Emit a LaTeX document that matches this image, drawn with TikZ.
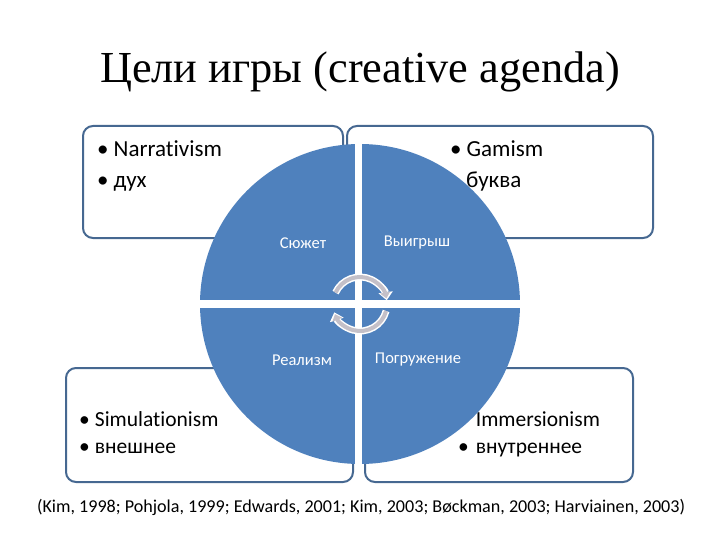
\documentclass[tikz,border=0pt]{standalone}
\usepackage{fontspec}
\setmainfont{Carlito}[Ligatures=NoCommon]
\newfontfamily\titlefont{Liberation Serif}
\usetikzlibrary{arrows.meta}
\definecolor{qblue}{RGB}{79,129,189}
\definecolor{bord}{RGB}{70,104,145}
\definecolor{cyc}{RGB}{196,192,200}
\tikzset{
  boxq/.style={draw=bord,line width=2pt,fill=white,rounded corners=10pt},
  btxt/.style={anchor=base west,inner sep=0pt,font=\fontsize{23}{27}\selectfont},
  btxs/.style={anchor=base west,inner sep=0pt,font=\fontsize{21.5}{25}\selectfont},
  qlab/.style={text=white,inner sep=0pt,font=\fontsize{16.5}{19}\selectfont},
}
\begin{document}
\begin{tikzpicture}[x=1pt,y=-1pt]
\useasboundingbox (0,0) rectangle (720,540);
% title
\node[anchor=base,inner sep=0pt,font=\titlefont\fontsize{44.3}{50}\selectfont] (title) at (360,83) {Цели игры (creative agenda)};
% boxes
\draw[boxq] (83,126) rectangle (343,238);
\draw[boxq] (347,126) rectangle (653,238);
\draw[boxq] (66,368) rectangle (353,482);
\draw[boxq] (365,368) rectangle (633,482);
% box texts
\node[btxt] (n1) at (97,157) {\textbullet\hspace{5pt}Narrativism};
\node[btxt] (n2) at (97,188) {\textbullet\hspace{5pt}дух};
\node[btxt] (g1) at (450,157) {\textbullet\hspace{5pt}Gamism};
\node[btxt] (g2) at (466,188) {буква};
\node[btxs] (s1) at (79,426) {\textbullet\hspace{5pt}Simulationism};
\node[btxs] (s2) at (79,453) {\textbullet\hspace{5pt}внешнее};
\node[btxs] (i1) at (458,426) {\textbullet\hspace{7pt}Immersionism};
\node[btxs] (i2) at (458,453) {\textbullet\hspace{7pt}внутреннее};
% circle
\coordinate (c) at (360,304);
\fill[qblue] (c) circle (160);
\begin{scope}
\clip (c) circle (161);
\fill[white] (355,140) rectangle (362,470);
\fill[white] (190,300) rectangle (530,308);
\end{scope}
% quadrant labels
\node[qlab] (q1) at (303,243) {Сюжет};
\node[qlab] (q2) at (417,243) {Выигрыш};
\node[qlab] (q3) at (302,360) {Реализм};
\node[qlab] (q4) at (418,360) {Погружение};
% cycle arrows
\begin{scope}[shift={(360,304)}]
\draw[white,line width=7pt,-{Triangle[width=14pt,length=8pt]}] (-155:27) arc[start angle=-155,end angle=-8,radius=27];
\draw[cyc,line width=4pt,-{Triangle[width=10pt,length=6pt]}] (-155:27) arc[start angle=-155,end angle=-12,radius=27];
\draw[white,line width=7pt,-{Triangle[width=14pt,length=8pt]}] (15:27) arc[start angle=15,end angle=162,radius=27];
\draw[cyc,line width=4pt,-{Triangle[width=10pt,length=6pt]}] (15:27) arc[start angle=15,end angle=158,radius=27];
\end{scope}
% citation
\node[anchor=base,inner sep=0pt,font=\fontsize{18.1}{21}\selectfont] (cit) at (361,512) {(Kim, 1998; Pohjola, 1999; Edwards, 2001; Kim, 2003; Bøckman, 2003; Harviainen, 2003)};
\end{tikzpicture}
\end{document}
